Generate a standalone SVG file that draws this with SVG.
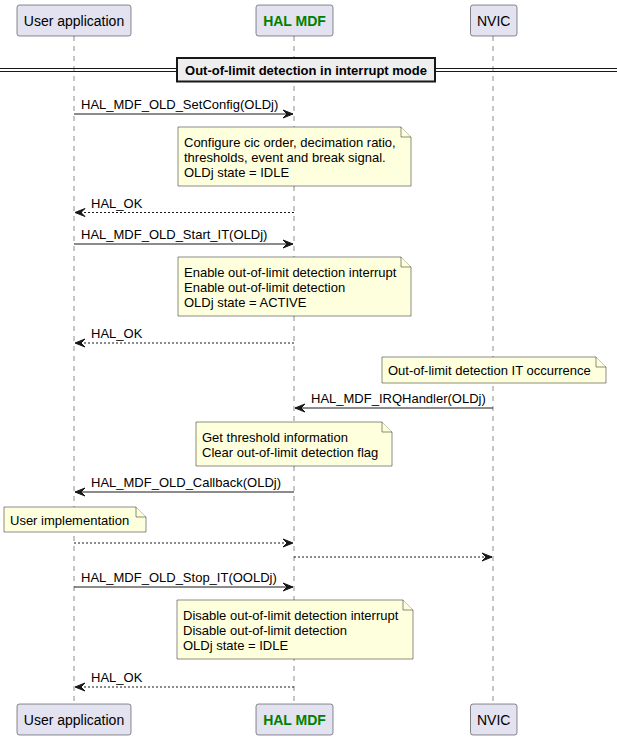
<svg xmlns="http://www.w3.org/2000/svg" width="617" height="740" viewBox="0 0 617 740">
<style>
text{font-family:"Liberation Sans",Arial,sans-serif;fill:#000}
.part{fill:#E2E2F0;stroke:#181818;stroke-width:0.5}
.pt{font-size:14px;text-anchor:middle}
.hal{font-weight:bold;fill:#008000}
.life{stroke:#181818;stroke-width:0.5;stroke-dasharray:5,5}
.msg{stroke:#181818;stroke-width:1;fill:none}
.ret{stroke:#181818;stroke-width:1;fill:none;stroke-dasharray:2,2}
.mt{font-size:13px}
.note{fill:#FEFFDD;stroke:#181818;stroke-width:0.5}
.nt{font-size:13px}
</style>
<defs>
<marker id="ar" viewBox="0 0 10 8" refX="10" refY="4" markerWidth="10" markerHeight="8" markerUnits="userSpaceOnUse" orient="auto" overflow="visible">
<polygon points="0,0 10,4 0,8 4,4" fill="#181818" stroke="#181818" stroke-width="1" stroke-linejoin="miter"/>
</marker>
</defs>
<rect width="617" height="740" fill="#FFFFFF"/>
<g id="lifelines">
<line class="life" x1="74" y1="36" x2="74" y2="704"/>
<line class="life" x1="294" y1="36" x2="294" y2="704"/>
<line class="life" x1="493" y1="36" x2="493" y2="704"/>
</g>
<g id="user-application">
<rect class="part" x="17" y="5" width="114" height="31" rx="2.5"/>
<text class="pt" x="74" y="25.5">User application</text>
<rect class="part" x="17" y="704" width="114" height="31" rx="2.5"/>
<text class="pt" x="74" y="724.5">User application</text>
</g>
<g id="hal-mdf">
<rect class="part" x="256" y="5" width="77" height="31" rx="2.5"/>
<text class="pt hal" x="294.5" y="25.5">HAL MDF</text>
<rect class="part" x="256" y="704" width="77" height="31" rx="2.5"/>
<text class="pt hal" x="294.5" y="724.5">HAL MDF</text>
</g>
<g id="nvic">
<rect class="part" x="470.5" y="5" width="46.5" height="31" rx="2.5"/>
<text class="pt" x="493.7" y="25.5">NVIC</text>
<rect class="part" x="470.5" y="704" width="46.5" height="31" rx="2.5"/>
<text class="pt" x="493.7" y="724.5">NVIC</text>
</g>
<g id="divider">
<line x1="0" y1="68.5" x2="617" y2="68.5" stroke="#181818" stroke-width="1.2"/>
<line x1="0" y1="71.5" x2="617" y2="71.5" stroke="#181818" stroke-width="1.2"/>
<rect x="177" y="58" width="258" height="23.5" fill="#EEEEEE" stroke="#181818" stroke-width="2"/>
<text x="306" y="74.5" font-size="13" font-weight="bold" text-anchor="middle">Out-of-limit detection in interrupt mode</text>
</g>
<g id="connectors">
<line class="msg" x1="74" y1="114" x2="293" y2="114" marker-end="url(#ar)"/>
<text class="mt" x="81" y="109">HAL_MDF_OLD_SetConfig(OLDj)</text>
<line class="ret" x1="294" y1="212.5" x2="75" y2="212.5" marker-end="url(#ar)"/>
<text class="mt" x="91" y="207.5">HAL_OK</text>
<line class="msg" x1="74" y1="244" x2="293" y2="244" marker-end="url(#ar)"/>
<text class="mt" x="81" y="239">HAL_MDF_OLD_Start_IT(OLDj)</text>
<line class="ret" x1="294" y1="343" x2="75" y2="343" marker-end="url(#ar)"/>
<text class="mt" x="91" y="338">HAL_OK</text>
<line class="msg" x1="493" y1="408" x2="295" y2="408" marker-end="url(#ar)"/>
<text class="mt" x="311" y="403">HAL_MDF_IRQHandler(OLDj)</text>
<line class="msg" x1="294" y1="492" x2="75" y2="492" marker-end="url(#ar)"/>
<text class="mt" x="91" y="487">HAL_MDF_OLD_Callback(OLDj)</text>
<line class="ret" x1="74" y1="543" x2="293" y2="543" marker-end="url(#ar)"/>
<line class="ret" x1="294" y1="557" x2="492" y2="557" marker-end="url(#ar)"/>
<line class="msg" x1="74" y1="587" x2="293" y2="587" marker-end="url(#ar)"/>
<text class="mt" x="81" y="582">HAL_MDF_OLD_Stop_IT(OOLDj)</text>
<line class="ret" x1="294" y1="687" x2="75" y2="687" marker-end="url(#ar)"/>
<text class="mt" x="91" y="682">HAL_OK</text>
</g>
<g id="note-setconfig">
<path class="note" d="M178,127 L178,186 L411,186 L411,137 L401,127 Z"/>
<path class="note" d="M401,127 L401,137 L411,137"/>
<text class="nt" x="184" y="146.5">Configure cic order, decimation ratio,</text>
<text class="nt" x="184" y="161.7">thresholds, event and break signal.</text>
<text class="nt" x="184" y="176.9">OLDj state = IDLE</text>
</g>
<g id="note-start">
<path class="note" d="M178,257 L178,316 L411,316 L411,267 L401,257 Z"/>
<path class="note" d="M401,257 L401,267 L411,267"/>
<text class="nt" x="184" y="276.5">Enable out-of-limit detection interrupt</text>
<text class="nt" x="184" y="291.7">Enable out-of-limit detection</text>
<text class="nt" x="184" y="306.9">OLDj state = ACTIVE</text>
</g>
<g id="note-nvic">
<path class="note" d="M382,357 L382,383 L606,383 L606,367 L596,357 Z"/>
<path class="note" d="M596,357 L596,367 L606,367"/>
<text class="nt" x="388" y="375">Out-of-limit detection IT occurrence</text>
</g>
<g id="note-irq">
<path class="note" d="M196,422 L196,466 L392,466 L392,432 L382,422 Z"/>
<path class="note" d="M382,422 L382,432 L392,432"/>
<text class="nt" x="202" y="441.5">Get threshold information</text>
<text class="nt" x="202" y="456.7">Clear out-of-limit detection flag</text>
</g>
<g id="note-user">
<path class="note" d="M4,507 L4,532 L146,532 L146,517 L136,507 Z"/>
<path class="note" d="M136,507 L136,517 L146,517"/>
<text class="nt" x="10" y="524.5">User implementation</text>
</g>
<g id="note-stop">
<path class="note" d="M177,600 L177,659 L413,659 L413,610 L403,600 Z"/>
<path class="note" d="M403,600 L403,610 L413,610"/>
<text class="nt" x="183" y="619.5">Disable out-of-limit detection interrupt</text>
<text class="nt" x="183" y="634.7">Disable out-of-limit detection</text>
<text class="nt" x="183" y="649.9">OLDj state = IDLE</text>
</g>
</svg>
